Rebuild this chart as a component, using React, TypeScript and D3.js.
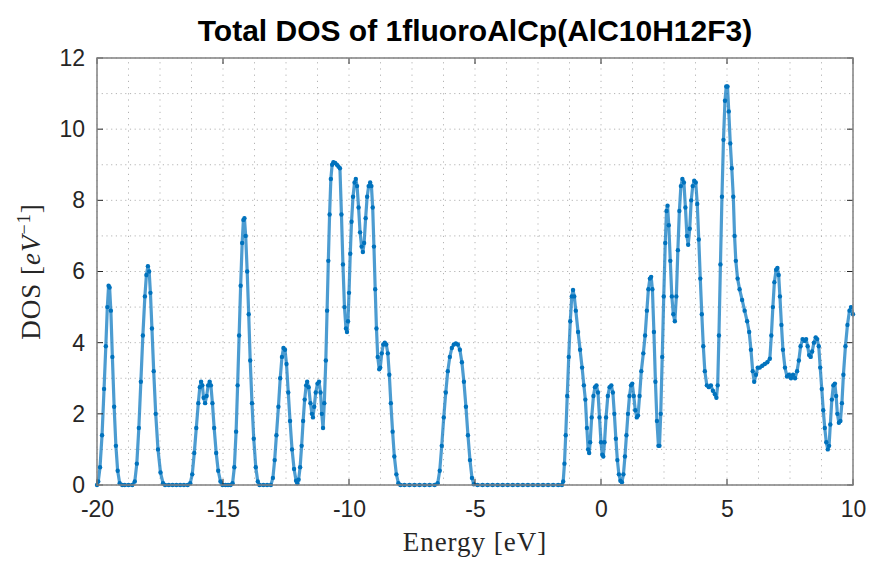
import React, { useRef, useEffect } from 'react';
import * as d3 from 'd3';

// energies (eV)
const energy = [
  -20.0, -19.95, -19.88, -19.8, -19.72, -19.65, -19.59, -19.54, -19.5, -19.45, -19.39, -19.32, -19.25, -19.18, -19.1, -19.0,
  -18.9, -18.75, -18.6, -18.5, -18.42, -18.34, -18.26, -18.18, -18.1, -18.04, -17.98, -17.93, -17.88, -17.82, -17.75, -17.67,
  -17.58, -17.48, -17.38, -17.3, -17.15, -17.0, -16.85, -16.7, -16.55, -16.4, -16.3, -16.22, -16.14, -16.06, -15.98, -15.92,
  -15.87, -15.82, -15.77, -15.71, -15.65, -15.59, -15.53, -15.48, -15.42, -15.35, -15.27, -15.19, -15.1, -15.02, -14.9, -14.8,
  -14.7, -14.62, -14.55, -14.48, -14.42, -14.36, -14.3, -14.24, -14.19, -14.15, -14.1, -14.04, -13.98, -13.92, -13.85, -13.78,
  -13.7, -13.62, -13.55, -13.4, -13.25, -13.1, -13.02, -12.95, -12.88, -12.8, -12.73, -12.66, -12.6, -12.54, -12.48, -12.41,
  -12.34, -12.26, -12.18, -12.1, -12.05, -12.0, -11.94, -11.88, -11.82, -11.76, -11.7, -11.66, -11.6, -11.53, -11.47, -11.43,
  -11.38, -11.32, -11.25, -11.19, -11.13, -11.08, -11.03, -10.98, -10.92, -10.87, -10.82, -10.77, -10.72, -10.67, -10.62, -10.55,
  -10.48, -10.42, -10.36, -10.3, -10.24, -10.18, -10.12, -10.08, -10.04, -10.0, -9.95, -9.9, -9.84, -9.78, -9.73, -9.68,
  -9.62, -9.56, -9.5, -9.45, -9.4, -9.34, -9.28, -9.22, -9.16, -9.11, -9.06, -9.01, -8.96, -8.91, -8.86, -8.8,
  -8.76, -8.7, -8.64, -8.58, -8.52, -8.46, -8.4, -8.34, -8.27, -8.2, -8.12, -8.04, -7.96, -7.8, -7.6, -7.4,
  -7.2, -7.0, -6.8, -6.6, -6.48, -6.4, -6.32, -6.24, -6.16, -6.08, -6.0, -5.92, -5.84, -5.76, -5.68, -5.6,
  -5.52, -5.44, -5.36, -5.28, -5.2, -5.12, -5.05, -4.9, -4.7, -4.5, -4.3, -4.1, -3.9, -3.7, -3.5, -3.3,
  -3.1, -2.9, -2.7, -2.5, -2.3, -2.1, -1.9, -1.7, -1.55, -1.5, -1.45, -1.4, -1.34, -1.28, -1.22, -1.16,
  -1.11, -1.06, -1.0, -0.91, -0.83, -0.75, -0.68, -0.62, -0.56, -0.51, -0.47, -0.43, -0.37, -0.3, -0.24, -0.18,
  -0.12, -0.06, 0.0, 0.05, 0.09, 0.14, 0.2, 0.27, 0.34, 0.41, 0.47, 0.53, 0.59, 0.65, 0.71, 0.77,
  0.83, 0.89, 0.95, 1.01, 1.07, 1.13, 1.19, 1.24, 1.3, 1.36, 1.42, 1.47, 1.53, 1.6, 1.68, 1.75,
  1.82, 1.88, 1.94, 1.99, 2.04, 2.1, 2.16, 2.22, 2.28, 2.32, 2.37, 2.43, 2.49, 2.55, 2.6, 2.64,
  2.69, 2.75, 2.81, 2.87, 2.93, 2.99, 3.05, 3.11, 3.17, 3.23, 3.29, 3.35, 3.41, 3.46, 3.52, 3.58,
  3.64, 3.7, 3.76, 3.82, 3.88, 3.94, 4.0, 4.06, 4.12, 4.2, 4.28, 4.36, 4.44, 4.52, 4.58, 4.63,
  4.68, 4.74, 4.8, 4.86, 4.92, 4.97, 5.02, 5.07, 5.13, 5.19, 5.25, 5.3, 5.35, 5.42, 5.5, 5.6,
  5.7, 5.8, 5.88, 5.95, 6.02, 6.08, 6.15, 6.22, 6.3, 6.4, 6.5, 6.6, 6.7, 6.76, 6.82, 6.88,
  6.95, 7.0, 7.05, 7.1, 7.16, 7.22, 7.3, 7.38, 7.46, 7.54, 7.62, 7.7, 7.78, 7.85, 7.92, 8.0,
  8.08, 8.14, 8.2, 8.26, 8.32, 8.38, 8.45, 8.52, 8.58, 8.64, 8.7, 8.76, 8.82, 8.88, 8.94, 9.0,
  9.05, 9.1, 9.16, 9.22, 9.28, 9.33, 9.38, 9.44, 9.5, 9.56, 9.62, 9.7, 9.78, 9.86, 9.92, 10.0,
];

// total DOS (1/eV) at those energies
const dos = [
  0, 0.1, 0.5, 1.4, 2.7, 3.9, 5.0, 5.6, 5.55, 4.9, 3.6, 2.2, 1.1, 0.4, 0.05, 0,
  0, 0, 0, 0.1, 0.6, 1.6, 2.9, 4.2, 5.3, 5.9, 6.15, 6.0, 5.4, 4.4, 3.2, 2.0,
  1.0, 0.35, 0.05, 0, 0, 0, 0, 0, 0, 0, 0.05, 0.3, 0.9, 1.6, 2.3, 2.75,
  2.9, 2.8, 2.45, 2.3, 2.5, 2.8, 2.9, 2.8, 2.3, 1.6, 0.9, 0.4, 0.1, 0, 0, 0,
  0, 0.05, 0.5, 1.5, 2.8, 4.2, 5.6, 6.8, 7.45, 7.5, 7.0, 6.0, 4.8, 3.5, 2.3, 1.3,
  0.5, 0.1, 0, 0, 0, 0, 0.2, 0.7, 1.4, 2.2, 3.0, 3.6, 3.85, 3.8, 3.4, 2.6,
  1.8, 1.0, 0.45, 0.12, 0.05, 0.15, 0.5, 1.1, 1.8, 2.4, 2.8, 2.9, 2.75, 2.3, 2.0, 1.9,
  2.2, 2.6, 2.85, 2.9, 2.6, 2.0, 1.6, 2.3, 3.5, 4.9, 6.3, 7.6, 8.6, 9.0, 9.07, 9.05,
  9.0, 8.95, 8.9, 7.6, 6.2, 5.0, 4.4, 4.3, 4.6, 5.4, 6.5, 7.4, 8.1, 8.5, 8.6, 8.4,
  7.8, 7.1, 6.7, 6.55, 6.8, 7.5, 8.1, 8.4, 8.5, 8.4, 7.8, 6.7, 5.5, 4.4, 3.6, 3.25,
  3.3, 3.7, 3.95, 4.0, 3.95, 3.7, 3.1, 2.3, 1.5, 0.8, 0.3, 0.05, 0, 0, 0, 0,
  0, 0, 0, 0, 0.05, 0.4, 1.1, 1.9, 2.6, 3.2, 3.6, 3.85, 3.95, 3.98, 3.95, 3.8,
  3.45, 2.9, 2.2, 1.4, 0.7, 0.2, 0.02, 0, 0, 0, 0, 0, 0, 0, 0, 0,
  0, 0, 0, 0, 0, 0, 0, 0, 0, 0.1, 0.6, 1.4, 2.5, 3.6, 4.6, 5.3,
  5.48, 5.3, 4.9, 4.3, 3.8, 3.3, 2.8, 2.4, 1.6, 1.0, 0.9, 1.2, 1.9, 2.5, 2.75, 2.8,
  2.6, 1.9, 1.2, 0.85, 0.8, 1.2, 1.9, 2.5, 2.75, 2.8, 2.6, 2.0, 1.3, 0.7, 0.3, 0.12,
  0.08, 0.3, 0.8, 1.4, 2.0, 2.5, 2.8, 2.85, 2.5, 2.1, 1.9, 1.95, 2.5, 3.2, 3.7, 4.2,
  4.9, 5.5, 5.8, 5.85, 5.5, 4.3, 2.9, 1.8, 1.1, 1.1, 2.0, 3.6, 5.3, 6.8, 7.7, 7.85,
  7.3, 6.3, 5.3, 4.8, 4.6, 5.3, 6.6, 7.7, 8.4, 8.6, 8.5, 7.8, 7.0, 6.75, 7.2, 8.0,
  8.4, 8.55, 8.5, 7.9, 6.9, 5.8, 4.8, 3.9, 3.2, 2.8, 2.75, 2.8, 2.65, 2.55, 2.45, 2.8,
  4.2, 6.2, 8.1, 9.7, 10.8, 11.2, 11.2, 10.5, 9.6, 8.9, 8.1, 7.0, 6.3, 5.8, 5.5, 5.2,
  4.9, 4.6, 4.3, 3.8, 3.2, 2.9, 3.1, 3.3, 3.3, 3.35, 3.4, 3.45, 3.55, 4.2, 5.0, 5.7,
  6.05, 6.1, 5.9, 5.3, 4.5, 3.8, 3.3, 3.05, 3.1, 3.0, 3.1, 3.0, 3.2, 3.5, 3.9, 4.1,
  4.05, 4.1, 3.9, 3.65, 3.6, 3.75, 4.0, 4.15, 4.1, 3.9, 3.3, 2.7, 2.1, 1.6, 1.2, 1.0,
  1.1, 1.7, 2.4, 2.8, 2.85, 2.5, 2.0, 1.75, 1.8, 2.3, 3.1, 3.9, 4.5, 4.9, 5.0, 4.8,
];

const xTicks = [-20, -15, -10, -5, 0, 5, 10];
const yTicks = [0, 2, 4, 6, 8, 10, 12];

const W = 872;
const H = 562;
const margin = { left: 97, right: 19, top: 58, bottom: 77 };

export default function App() {
  const ref = useRef<SVGSVGElement>(null);

  useEffect(() => {
    const svg = d3.select(ref.current);
    svg.selectAll('*').remove();

    const x = d3.scaleLinear().domain([-20, 10]).range([margin.left, W - margin.right]);
    const y = d3.scaleLinear().domain([0, 12]).range([H - margin.bottom, margin.top]);

    const x0 = margin.left, x1 = W - margin.right;
    const y0 = H - margin.bottom, y1 = margin.top;

    svg.append('rect').attr('x', x0).attr('y', y1).attr('width', x1 - x0).attr('height', y0 - y1).attr('fill', '#fff');

    // minor + major grid, dotted like matlab
    const grid = svg.append('g');
    const xMinor = d3.range(-20, 10.001, 1.25);
    const yMinor = d3.range(0, 12.001, 1);
    grid.selectAll('line.vx').data(xMinor).enter().append('line')
      .attr('x1', d => x(d)).attr('x2', d => x(d)).attr('y1', y0).attr('y2', y1)
      .attr('stroke', '#b4b4b4').attr('stroke-width', 1).attr('stroke-dasharray', '1.2,5');
    grid.selectAll('line.hy').data(yMinor).enter().append('line')
      .attr('y1', d => y(d)).attr('y2', d => y(d)).attr('x1', x0).attr('x2', x1)
      .attr('stroke', '#b4b4b4').attr('stroke-width', 1).attr('stroke-dasharray', '1.2,3.5');

    // data line with point markers
    const pts = energy.map((e, i) => [e, dos[i]] as [number, number]);
    const line = d3.line<[number, number]>().x(d => x(d[0])).y(d => y(d[1]));
    const clip = svg.append('defs').append('clipPath').attr('id', 'clip');
    clip.append('rect').attr('x', x0 - 3).attr('y', y1).attr('width', x1 - x0 + 6).attr('height', y0 - y1 + 3);
    const plot = svg.append('g').attr('clip-path', 'url(#clip)');
    plot.append('path').datum(pts).attr('d', line)
      .attr('fill', 'none').attr('stroke', '#0072BD').attr('stroke-opacity', 0.7)
      .attr('stroke-width', 3.2).attr('stroke-linejoin', 'round');
    plot.selectAll('circle').data(pts).enter().append('circle')
      .attr('cx', d => x(d[0])).attr('cy', d => y(d[1])).attr('r', 2.2)
      .attr('fill', '#0072BD');

    // axes
    const font = '"Liberation Sans", Arial, Helvetica, sans-serif';
    const fmt = (d: d3.NumberValue) => String(d);
    const xAxis = svg.append('g').attr('transform', `translate(0,${y0})`)
      .call(d3.axisBottom(x).tickValues(xTicks).tickFormat(fmt).tickSize(0).tickPadding(16));
    const yAxis = svg.append('g').attr('transform', `translate(${x0},0)`)
      .call(d3.axisLeft(y).tickValues(yTicks).tickFormat(fmt).tickSize(0).tickPadding(12));
    [xAxis, yAxis].forEach(a => {
      a.select('.domain').remove();
      a.selectAll('text').attr('font-family', font).attr('font-size', 23).attr('fill', '#262626');
    });

    // tick marks inside the box
    const tk = svg.append('g').attr('stroke', '#262626').attr('stroke-width', 1);
    xTicks.forEach(t => {
      tk.append('line').attr('x1', x(t)).attr('x2', x(t)).attr('y1', y0).attr('y2', y0 - 6);
      tk.append('line').attr('x1', x(t)).attr('x2', x(t)).attr('y1', y1).attr('y2', y1 + 6);
    });
    yTicks.forEach(t => {
      tk.append('line').attr('x1', x0).attr('x2', x0 + 6).attr('y1', y(t)).attr('y2', y(t));
      tk.append('line').attr('x1', x1).attr('x2', x1 - 6).attr('y1', y(t)).attr('y2', y(t));
    });

    svg.append('rect').attr('x', x0).attr('y', y1).attr('width', x1 - x0).attr('height', y0 - y1)
      .attr('fill', 'none').attr('stroke', '#808080').attr('stroke-width', 1.5);

    // labels
    svg.append('text').attr('x', (x0 + x1) / 2).attr('y', 41).attr('text-anchor', 'middle')
      .attr('font-family', font).attr('font-size', 30).attr('font-weight', 'bold').attr('fill', '#000')
      .text('Total DOS of 1fluoroAlCp(AlC10H12F3)');

    const serif = '"Liberation Serif", "Times New Roman", serif';
    svg.append('text').attr('x', (x0 + x1) / 2).attr('y', 551).attr('text-anchor', 'middle')
      .attr('font-family', serif).attr('font-size', 27).attr('letter-spacing', 1).attr('fill', '#262626')
      .text('Energy [eV]');

    const yl = svg.append('text').attr('transform', `translate(40,${(y0 + y1) / 2}) rotate(-90)`)
      .attr('text-anchor', 'middle').attr('font-family', serif).attr('font-size', 27)
      .attr('letter-spacing', 1).attr('fill', '#262626');
    yl.append('tspan').text('DOS [');
    yl.append('tspan').attr('font-style', 'italic').text('eV');
    yl.append('tspan').attr('font-size', 18).attr('dy', -10).text('−1');
    yl.append('tspan').attr('dy', 10).text(']');
  }, []);

  return (
    <svg ref={ref} width={W} height={H}
      style={{ position: 'absolute', left: 0, top: 0, background: '#fff' }} />
  );
}
